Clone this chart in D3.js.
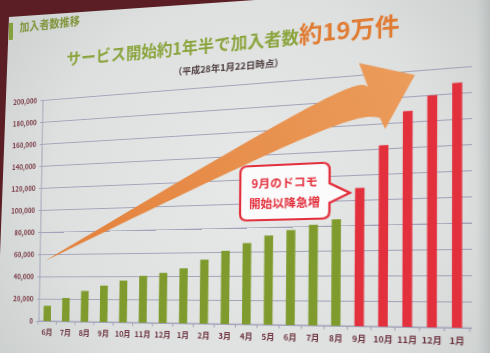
<!DOCTYPE html>
<html>
<head>
<meta charset="utf-8">
<script src="https://cdn.jsdelivr.net/npm/d3@7"></script>
<style>
  html, body { margin: 0; padding: 0; width: 490px; height: 353px; overflow: hidden; background: #5a1e24; }
  #bg, #slide { position: absolute; left: 0; top: 0; }
  #slide { transform-origin: 0 0; }
  text { font-family: "Noto Sans CJK JP", "Liberation Sans", sans-serif; }
</style>
</head>
<body>
<svg id="bg" width="490" height="353"></svg>
<svg id="slide" width="540" height="400"></svg>
<script>
// ==== DATA ====
const MONTHS = ["6月","7月","8月","9月","10月","11月","12月","1月","2月","3月",
                "4月","5月","6月","7月","8月","9月","10月","11月","12月","1月"];
const SUBSCRIBERS = [13700, 20800, 27100, 31800, 36200, 40200, 42700, 46500, 53700, 60900,
                     67100, 73000, 77100, 81000, 85000, 109500, 142600, 168500, 179500, 187900];
const DOCOMO_START = 15;                       // 9月 onwards drawn red
const Y_TICKS = d3.range(0, 200001, 20000);
// big arrow outline as [category position, value]
const ARROW_UPPER = [[-0.18, 53900], [12.37, 173400], [15.33, 189800]];
const ARROW_HEAD = [[14.94, 209600], [17.29, 196500], [16.06, 155400]];
const ARROW_LOWER = [[15.84, 164400], [12.38, 150400], [-0.18, 53900]];

// ==== COLORS ====
const GREEN = "#7f9b2d", RED = "#e3303d", GRID = "#a3a4ba", LABEL = "#6e3440";

// ==== SLIDE GEOMETRY ====
// the slide is drawn flat, then warped to match the camera angle of the photo
const PLOT = { left: 60, right: 492, top: 110, bottom: 350 };
const QUAD = [[43, 100], [472, 66], [472, 328], [39, 321]];   // TL, TR, BR, BL in the photo

function homography(rect, quad) {
  const [[x0, y0], [x1, y1], [x2, y2], [x3, y3]] = quad;
  const sx = x0 - x1 + x2 - x3, sy = y0 - y1 + y2 - y3;
  const dx1 = x1 - x2, dx2 = x3 - x2, dy1 = y1 - y2, dy2 = y3 - y2;
  const det = dx1 * dy2 - dx2 * dy1;
  const g = (sx * dy2 - dx2 * sy) / det;
  const h = (dx1 * sy - sx * dy1) / det;
  const M = [
    [x1 - x0 + g * x1, x3 - x0 + h * x3, x0],
    [y1 - y0 + g * y1, y3 - y0 + h * y3, y0],
    [g, h, 1]
  ];
  const w = rect.right - rect.left, hh = rect.bottom - rect.top;
  const S = [[1 / w, 0, -rect.left / w], [0, 1 / hh, -rect.top / hh], [0, 0, 1]];
  return M.map(row => [0, 1, 2].map(j => row[0] * S[0][j] + row[1] * S[1][j] + row[2] * S[2][j]));
}
const Hm = homography(PLOT, QUAD);
d3.select("#slide").style("transform",
  `matrix3d(${Hm[0][0]},${Hm[1][0]},0,${Hm[2][0]},${Hm[0][1]},${Hm[1][1]},0,${Hm[2][1]},0,0,1,0,${Hm[0][2]},${Hm[1][2]},0,${Hm[2][2]})`);

// ==== PHOTO BACKGROUND (screen area) ====
const bg = d3.select("#bg");
const defs = bg.append("defs");
const rg = defs.append("radialGradient")
  .attr("id", "lit").attr("gradientUnits", "userSpaceOnUse")
  .attr("cx", 250).attr("cy", 190).attr("r", 330);
rg.append("stop").attr("offset", 0).attr("stop-color", "#e7e9e8");
rg.append("stop").attr("offset", 0.6).attr("stop-color", "#dde0df");
rg.append("stop").attr("offset", 1).attr("stop-color", "#c7cbca");
const edge = defs.append("linearGradient").attr("id", "edge");
edge.append("stop").attr("offset", 0).attr("stop-color", "#bfc3c3").attr("stop-opacity", 0);
edge.append("stop").attr("offset", 1).attr("stop-color", "#b5b9b9").attr("stop-opacity", 0.8);
bg.append("polygon")
  .attr("points", "9,17 255,0 490,0 490,353 0,353 0,255")
  .attr("fill", "url(#lit)");
bg.append("rect").attr("x", 476).attr("y", 0).attr("width", 14).attr("height", 353).attr("fill", "url(#edge)");

// ==== SLIDE ====
const svg = d3.select("#slide");

const x = d3.scaleBand().domain(d3.range(MONTHS.length))
  .range([61, 488]).paddingInner(0.6).paddingOuter(0.2);
const y = d3.scaleLinear().domain([0, 200000]).range([PLOT.bottom, PLOT.top]);
const xPos = p => x(0) + x.bandwidth() / 2 + p * x.step();

// header
svg.append("rect").attr("x", 17).attr("y", 21).attr("width", 5).attr("height", 19).attr("fill", "#86a03a");
svg.append("text").attr("x", 30).attr("y", 32.5)
  .attr("font-size", 12).attr("font-weight", 700).attr("fill", "#7f9338")
  .text("加入者数推移");

// title
const title = svg.append("text").attr("x", 87).attr("y", 74).attr("font-weight", 700);
title.append("tspan").attr("font-size", 17).attr("fill", "#8ba43d").text("サービス開始約1年半で加入者数");
title.append("tspan").attr("font-size", 22.5).attr("fill", "#e07b32").text("約19万件");

svg.append("text").attr("x", 207).attr("y", 95)
  .attr("font-size", 9.5).attr("font-weight", 700).attr("fill", "#4d3c3e")
  .text("（平成28年1月22日時点）");

// y axis + grid
const gy = svg.append("g").attr("transform", `translate(${PLOT.left},0)`)
  .call(d3.axisLeft(y).tickValues(Y_TICKS).tickSize(-(PLOT.right - PLOT.left)).tickPadding(7)
    .tickFormat(d3.format(",")));
gy.select(".domain").remove();
gy.selectAll(".tick line").attr("x1", -3).attr("stroke", GRID).attr("stroke-width", 1.1);
gy.selectAll(".tick text")
  .attr("font-family", "Liberation Sans, Arial, sans-serif")
  .attr("font-size", 7.5).attr("font-weight", 700).attr("fill", "#7b3a45");
svg.append("line")
  .attr("x1", PLOT.left).attr("x2", PLOT.left).attr("y1", PLOT.top).attr("y2", PLOT.bottom)
  .attr("stroke", GRID).attr("stroke-width", 1.1);

// x axis
const gx = svg.append("g").attr("transform", `translate(0,${PLOT.bottom})`)
  .call(d3.axisBottom(x).tickSize(0).tickPadding(9).tickFormat(i => MONTHS[i]));
gx.select(".domain").remove();
gx.selectAll(".tick text").attr("font-size", 8).attr("font-weight", 700).attr("fill", LABEL);
svg.append("line")
  .attr("x1", PLOT.left).attr("x2", PLOT.right).attr("y1", PLOT.bottom).attr("y2", PLOT.bottom)
  .attr("stroke", GRID).attr("stroke-width", 1.1);
svg.append("g").selectAll("line")
  .data(d3.range(MONTHS.length + 1))
  .join("line")
  .attr("x1", i => xPos(i - 0.5)).attr("x2", i => xPos(i - 0.5))
  .attr("y1", PLOT.bottom).attr("y2", PLOT.bottom + 3.5)
  .attr("stroke", GRID).attr("stroke-width", 1.1);

// big arrow (smooth edges, sharp head)
const ag = svg.append("defs").append("linearGradient").attr("id", "arrowFill")
  .attr("gradientUnits", "userSpaceOnUse")
  .attr("x1", xPos(0)).attr("y1", y(50000)).attr("x2", xPos(17)).attr("y2", y(200000));
ag.append("stop").attr("offset", 0).attr("stop-color", "#e3803a");
ag.append("stop").attr("offset", 1).attr("stop-color", "#eb9b5a");
const edgeLine = d3.line().x(d => xPos(d[0])).y(d => y(d[1])).curve(d3.curveNatural);
const headLine = d3.line().x(d => xPos(d[0])).y(d => y(d[1]));
const arrowPath = edgeLine(ARROW_UPPER)
  + headLine(ARROW_HEAD).replace(/^M/, "L")
  + edgeLine(ARROW_LOWER).replace(/^M/, "L") + "Z";
svg.append("path").attr("d", arrowPath).attr("fill", "url(#arrowFill)");

// bars
svg.append("g").selectAll("rect")
  .data(SUBSCRIBERS)
  .join("rect")
  .attr("x", (d, i) => x(i))
  .attr("y", d => y(d))
  .attr("width", x.bandwidth())
  .attr("height", d => y(0) - y(d))
  .attr("fill", (d, i) => i >= DOCOMO_START ? RED : GREEN);

// callout
svg.append("path")
  .attr("d", "M285,193 H358 Q365,193 365,200 V213 L384,223 L365,232 V240 Q365,247 358,247 H285 Q278,247 278,240 V200 Q278,193 285,193 Z")
  .attr("fill", "#fbfbfb").attr("stroke", RED).attr("stroke-width", 2.2);
svg.append("text").attr("x", 321.5).attr("y", 215).attr("text-anchor", "middle")
  .attr("font-size", 11.5).attr("font-weight", 700).attr("fill", RED).text("9月のドコモ");
svg.append("text").attr("x", 321.5).attr("y", 235).attr("text-anchor", "middle")
  .attr("font-size", 11.5).attr("font-weight", 700).attr("fill", RED).text("開始以降急増");
</script>
</body>
</html>
